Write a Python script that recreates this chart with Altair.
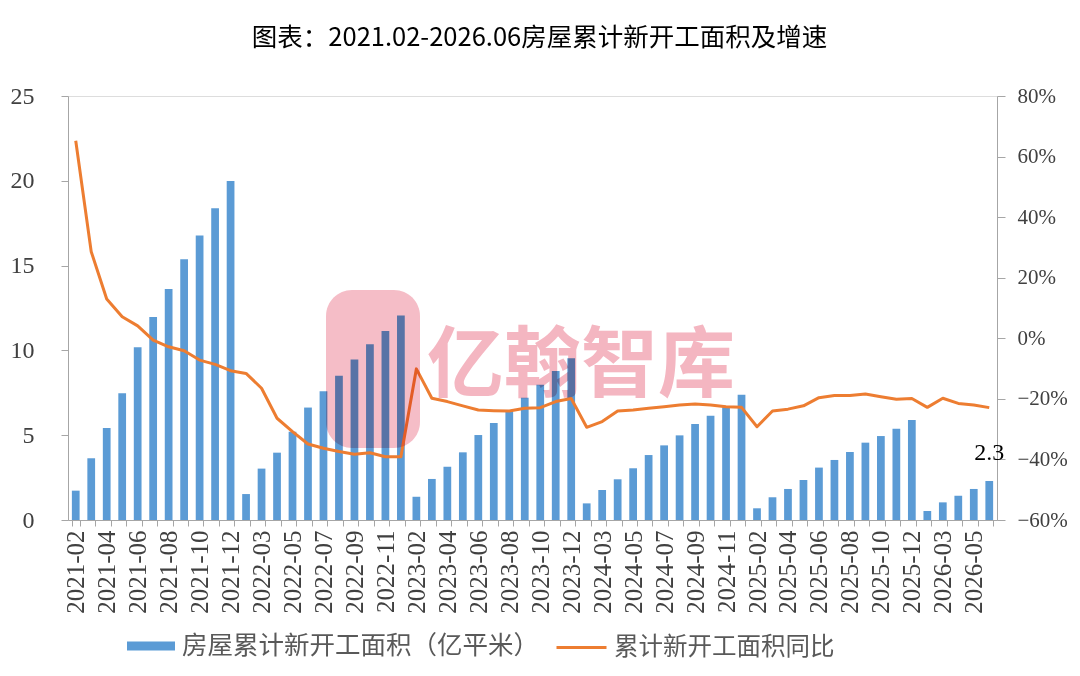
import json
import altair as alt
import pandas as pd

# ---------------- data ----------------
months_2021 = ["2021-02", "2021-03", "2021-04", "2021-05", "2021-06", "2021-07",
               "2021-08", "2021-09", "2021-10", "2021-11", "2021-12"]
months_2022 = ["2022-02", "2022-03", "2022-04", "2022-05", "2022-06", "2022-07",
               "2022-08", "2022-09", "2022-10", "2022-11", "2022-12"]
months_2023 = ["2023-02", "2023-03", "2023-04", "2023-05", "2023-06", "2023-07",
               "2023-08", "2023-09", "2023-10", "2023-11", "2023-12"]
months_2024 = ["2024-02", "2024-03", "2024-04", "2024-05", "2024-06", "2024-07",
               "2024-08", "2024-09", "2024-10", "2024-11", "2024-12"]
months_2025 = ["2025-02", "2025-03", "2025-04", "2025-05", "2025-06", "2025-07",
               "2025-08", "2025-09", "2025-10", "2025-11", "2025-12"]
months_2026 = ["2026-02", "2026-03", "2026-04", "2026-05", "2026-06"]
months = months_2021 + months_2022 + months_2023 + months_2024 + months_2025 + months_2026

# 房屋累计新开工面积（亿平米）
area_2021 = [1.73, 3.64, 5.42, 7.47, 10.18, 11.97, 13.62, 15.37, 16.77, 18.38, 19.99]
area_2022 = [1.53, 3.03, 3.97, 5.21, 6.63, 7.59, 8.51, 9.47, 10.36, 11.14, 12.06]
area_2023 = [1.37, 2.42, 3.14, 3.99, 5.01, 5.72, 6.39, 7.21, 7.97, 8.79, 9.54]
area_2024 = [0.98, 1.77, 2.40, 3.05, 3.83, 4.40, 4.99, 5.66, 6.15, 6.65, 7.39]
area_2025 = [0.69, 1.34, 1.83, 2.36, 3.09, 3.54, 4.01, 4.56, 4.95, 5.38, 5.90]
area_2026 = [0.53, 1.04, 1.43, 1.83, 2.30]
area = area_2021 + area_2022 + area_2023 + area_2024 + area_2025 + area_2026

# 累计新开工面积同比
yoy_2021 = [0.652, 0.286, 0.130, 0.071, 0.041, -0.006, -0.028, -0.041, -0.072, -0.086, -0.107]
yoy_2022 = [-0.116, -0.165, -0.264, -0.308, -0.349, -0.363, -0.374, -0.383, -0.378, -0.391, -0.391]
yoy_2023 = [-0.101, -0.198, -0.209, -0.223, -0.237, -0.239, -0.240, -0.231, -0.229, -0.209, -0.199]
yoy_2024 = [-0.294, -0.275, -0.240, -0.237, -0.231, -0.226, -0.220, -0.217, -0.220, -0.226, -0.228]
yoy_2025 = [-0.292, -0.240, -0.234, -0.223, -0.196, -0.189, -0.189, -0.184, -0.193, -0.201, -0.199]
yoy_2026 = [-0.228, -0.198, -0.215, -0.220, -0.229]
yoy = yoy_2021 + yoy_2022 + yoy_2023 + yoy_2024 + yoy_2025 + yoy_2026

bar_name = "房屋累计新开工面积（亿平米）"
line_name = "累计新开工面积同比"
title_text = "图表：2021.02-2026.06房屋累计新开工面积及增速"
watermark_text = "亿翰智库"

left_ticks = [0, 5, 10, 15, 20, 25]
right_ticks = [-0.6, -0.4, -0.2, 0.0, 0.2, 0.4, 0.6, 0.8]
labeled_months = months[::2]

df = pd.DataFrame({"month": months, "area": area, "yoy": yoy,
                   "s1": bar_name, "s2": line_name})

# ---------------- styling ----------------
SERIF = "Liberation Serif"
CJK = "Noto Sans CJK SC"
BLUE = "#5B9BD5"
ORANGE = "#ED7D31"
AXIS_GRAY = "#A6A6A6"
LABEL_COLOR = "#404040"
PINK = "#F4B6C1"

label_expr = ("indexof(" + json.dumps(labeled_months) +
              ", datum.value) >= 0 ? datum.label : ''")

x_enc = alt.X(
    "month:N", sort=months,
    scale=alt.Scale(paddingInner=0.5, paddingOuter=0.25),
    axis=alt.Axis(title=None, labelAngle=270, labelExpr=label_expr,
                  tickBand="extent", labelOverlap=False,
                  labelFont=SERIF, labelFontSize=25, labelColor=LABEL_COLOR,
                  tickSize=6, labelPadding=4, domainColor=AXIS_GRAY,
                  tickColor=AXIS_GRAY, grid=False),
)

base = alt.Chart(df)

bars = base.mark_bar().encode(
    x=x_enc,
    y=alt.Y("area:Q",
            scale=alt.Scale(domain=[0, 25], nice=False, zero=True),
            axis=alt.Axis(title=None, values=left_ticks, orient="left",
                          labelFont=SERIF, labelFontSize=24,
                          labelColor=LABEL_COLOR, tickSize=7, labelPadding=27,
                          domainColor=AXIS_GRAY, tickColor=AXIS_GRAY,
                          grid=False)),
    color=alt.Color("s1:N",
                    scale=alt.Scale(domain=[bar_name], range=[BLUE]),
                    legend=alt.Legend(title=None, orient="none",
                                      legendX=59, legendY=526,
                                      symbolType="M-1,-0.19H1V0.19H-1Z",
                                      symbolSize=2304, symbolStrokeWidth=0,
                                      labelFont=CJK, labelFontSize=25.5,
                                      labelColor="#595959", labelOffset=7,
                                      labelLimit=600)),
)

last_label = base.mark_text(
    font=SERIF, fontSize=24, color="#000000", baseline="bottom",
    align="center", dy=-16,
).encode(
    x=x_enc,
    y=alt.Y("area:Q"),
    text=alt.Text("area:Q", format=".1f"),
).transform_filter(alt.datum.month == months[-1])

left_group = alt.layer(bars, last_label)

line = base.mark_line(strokeWidth=3, strokeJoin="round").encode(
    x=x_enc,
    y=alt.Y("yoy:Q",
            scale=alt.Scale(domain=[-0.6, 0.8], nice=False, zero=False),
            axis=alt.Axis(title=None, values=right_ticks, orient="right",
                          format=".0%", labelFont=SERIF, labelFontSize=21,
                          labelColor=LABEL_COLOR, tickSize=8, labelPadding=12,
                          domainColor=AXIS_GRAY, tickColor=AXIS_GRAY,
                          grid=False)),
    stroke=alt.Stroke("s2:N",
                      scale=alt.Scale(domain=[line_name], range=[ORANGE]),
                      legend=alt.Legend(title=None, orient="none",
                                        legendX=487, legendY=525,
                                        symbolType="stroke", symbolSize=2500,
                                        symbolStrokeWidth=3,
                                        labelFont=CJK, labelFontSize=24.5,
                                        labelColor="#595959", labelOffset=6,
                                        labelLimit=600)),
)

# watermark (decoration)
wm_df = pd.DataFrame({"t": [watermark_text]})
wm_logo = alt.Chart(wm_df).mark_rect(
    color=PINK, cornerRadius=26, blend="multiply", opacity=0.9
).encode(x=alt.value(258), x2=alt.value(352), y=alt.value(194), y2=alt.value(352))
wm_text = alt.Chart(wm_df).mark_text(
    font=CJK, fontSize=77, fontWeight="bold", color=PINK, blend="multiply",
    align="center", baseline="middle",
).encode(x=alt.value(513), y=alt.value(272), text="t:N")

chart = alt.layer(left_group, line, wm_logo, wm_text).resolve_scale(
    y="independent"
).properties(
    width=929, height=424,
    padding={"left": 60, "top": 88, "right": 75, "bottom": 140},
    autosize=alt.AutoSizeParams(type="none"),
    title=alt.TitleParams(title_text, font=CJK, fontSize=25.5,
                          fontWeight="normal", color="#000000",
                          anchor="middle", offset=33, dx=7),
).configure_view(stroke=None).configure(background="white")

chart.save("out.html", embed_options={"renderer": "svg", "actions": False})
